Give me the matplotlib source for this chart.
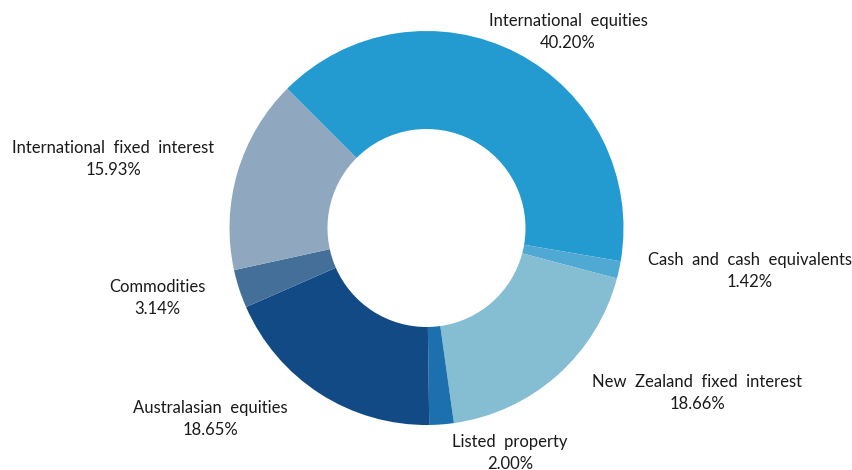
import matplotlib
matplotlib.use("Agg")
import matplotlib.pyplot as plt

# asset allocation, clockwise from the upper-left
categories = ['International equities', 'Cash and cash equivalents',
              'New Zealand fixed interest', 'Listed property',
              'Australasian equities', 'Commodities',
              'International fixed interest']
shares = [40.20, 1.42, 18.66, 2.00, 18.65, 3.14, 15.93]
colors = ['#239bd0', '#4fa9d3', '#85bdd3', '#1c70ae',
          '#124a86', '#436f98', '#8fa8c0']

# label centres in pixels (x from left, y from top)
label_xy = [(568, 32), (750, 271), (697, 393), (510, 453),
            (210, 419), (157, 298), (113, 159)]

W, H = 853, 470
fig = plt.figure(figsize=(W / 100, H / 100), dpi=100)
ax = fig.add_axes([0, 0, 1, 1])

ax.pie(shares, colors=colors, startangle=135, counterclock=False,
       center=(426.5, H - 228), radius=197,
       wedgeprops=dict(width=98, linewidth=0), frame=True)
ax.set_xlim(0, W)
ax.set_ylim(0, H)
ax.axis('off')

for name, val, (x, y) in zip(categories, shares, label_xy):
    ax.text(x, H - y, f'{name.replace(" ", "  ")}\n{val:.2f}%',
            ha='center', va='center', fontsize=12, family='Lato',
            color='#1a1a1a', linespacing=1.45)

fig.savefig('out.png', dpi=100)
